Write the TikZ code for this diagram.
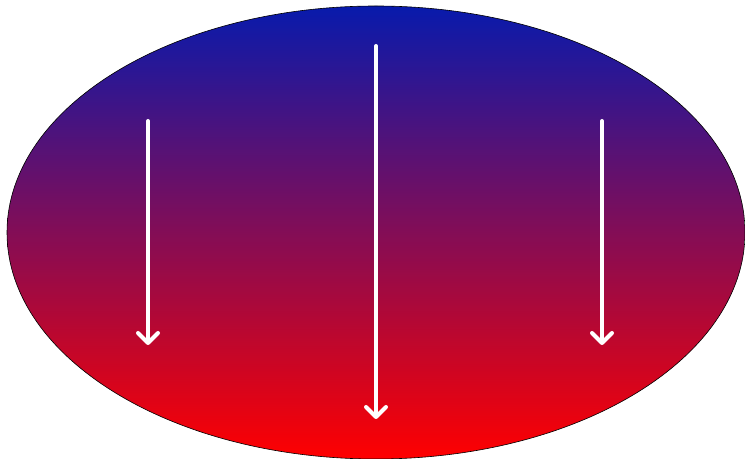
\documentclass[tikz,border=0pt]{standalone}
\usetikzlibrary{arrows.meta}
\definecolor{topblue}{RGB}{8,26,172}
\definecolor{botred}{RGB}{255,0,0}
\tikzset{
  flow/.style={draw=white, line width=2pt, line cap=round,
    -{Straight Barb[length=5pt,width=10pt,line cap=round,line join=round]}},
  blob/.style={draw=black, line width=0.3pt, top color=topblue, bottom color=botred}
}
\begin{document}
\begin{tikzpicture}[x=0.5pt,y=-0.5pt]
\useasboundingbox (0,0) rectangle (745,459);
\path[blob] (376,232.5) ellipse [x radius=369, y radius=226.5];
\coordinate (l1) at (148,121);
\coordinate (l2) at (148,345);
\coordinate (m1) at (376,46);
\coordinate (m2) at (376,419);
\coordinate (r1) at (602,121);
\coordinate (r2) at (602,345);
\draw[flow] (l1) -- (l2);
\draw[flow] (m1) -- (m2);
\draw[flow] (r1) -- (r2);
\end{tikzpicture}
\end{document}
